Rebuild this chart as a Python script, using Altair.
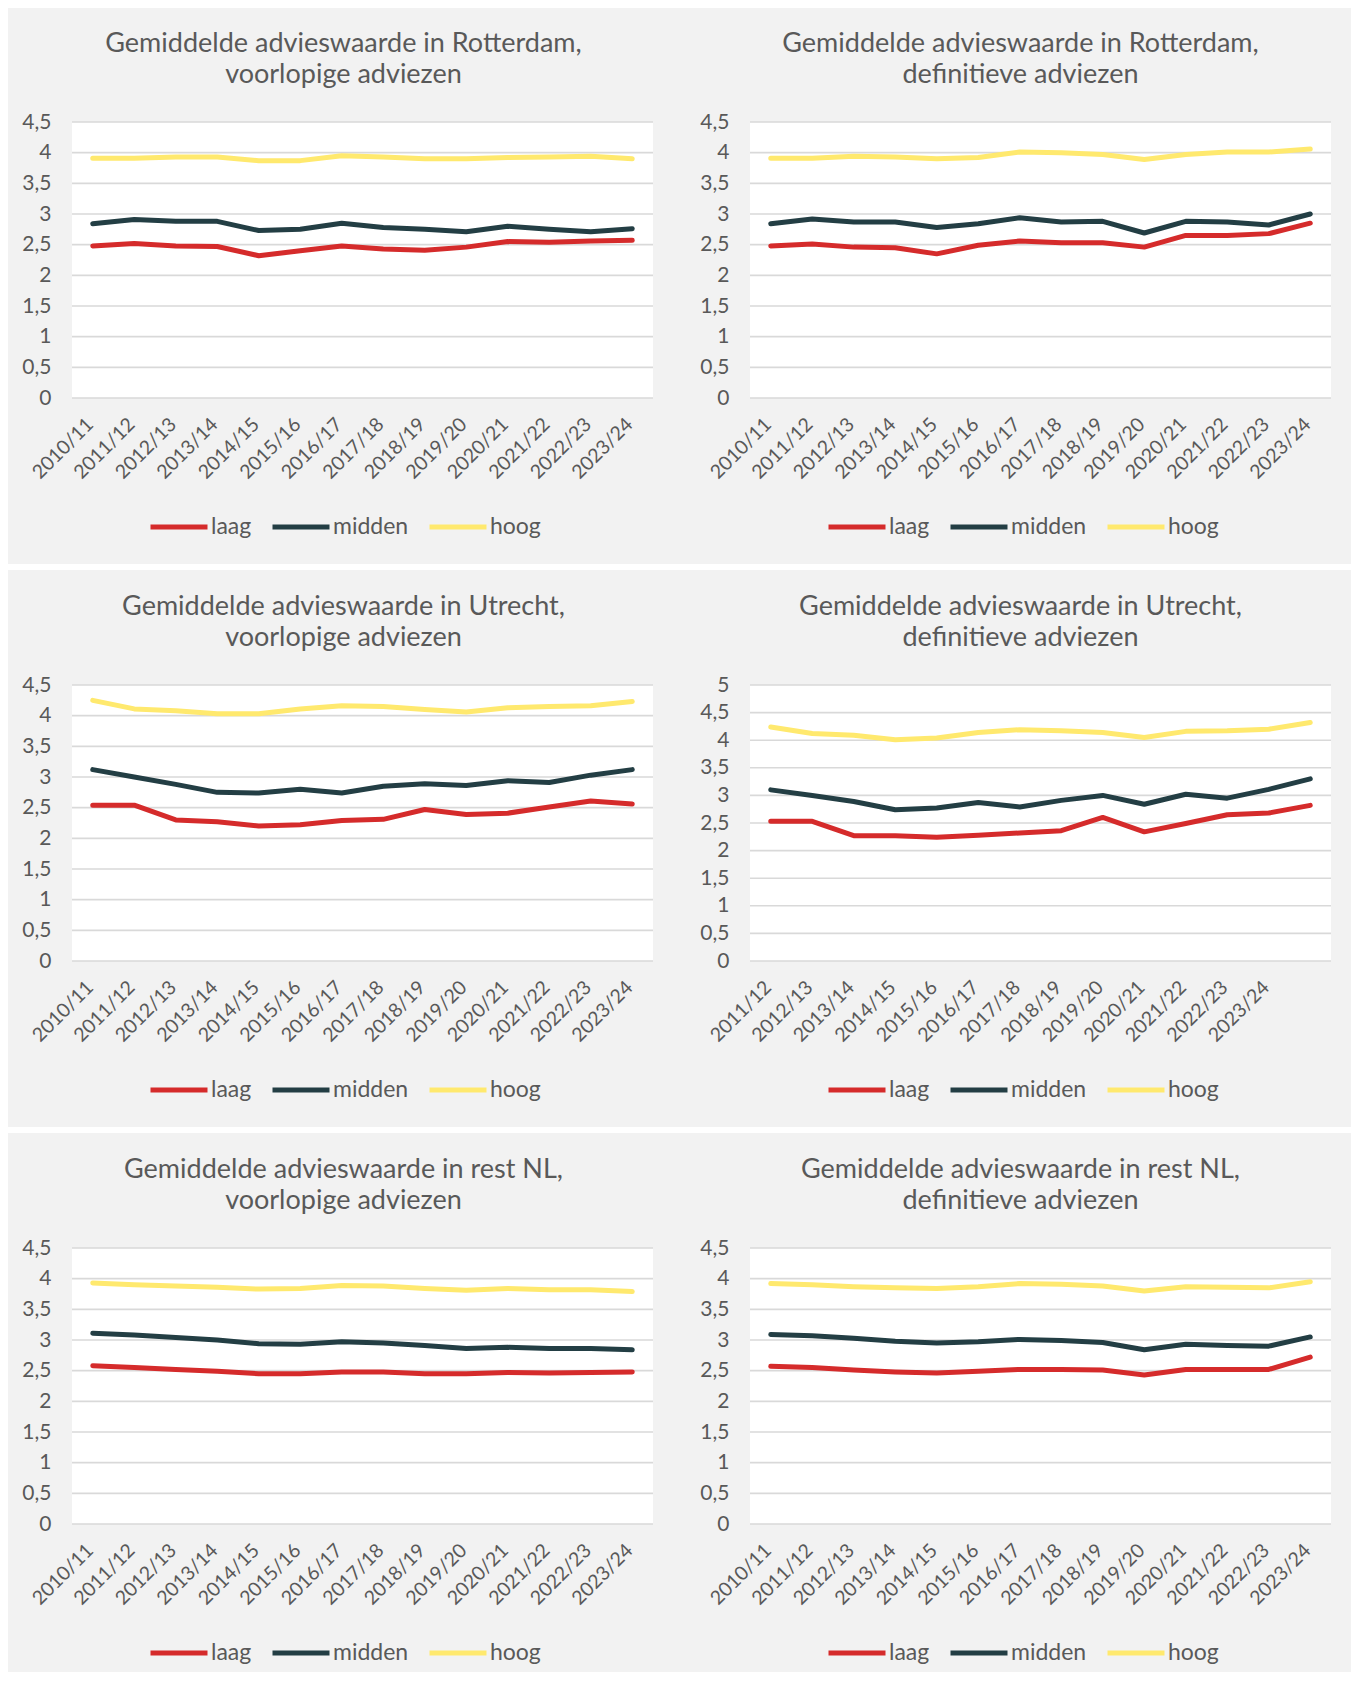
import altair as alt
import pandas as pd

FONT = "Lato"
TEXT = "#595959"
BG = "#F2F2F2"
GRID = "#D9D9D9"

# ---------------- data ----------------
seasons = ["2010/11", "2011/12", "2012/13", "2013/14", "2014/15", "2015/16", "2016/17",
           "2017/18", "2018/19", "2019/20", "2020/21", "2021/22", "2022/23", "2023/24"]
# the Utrecht 'definitief' chart has its labels shifted by one season (last slot empty)
seasons_utr_def = ["2011/12", "2012/13", "2013/14", "2014/15", "2015/16", "2016/17", "2017/18",
                   "2018/19", "2019/20", "2020/21", "2021/22", "2022/23", "2023/24", " "]

series = ["laag", "midden", "hoog"]
colors = ["#D52B2B", "#233E44", "#FFE96E"]

ticks_45 = [0, 0.5, 1, 1.5, 2, 2.5, 3, 3.5, 4, 4.5]
ticks_5 = [0, 0.5, 1, 1.5, 2, 2.5, 3, 3.5, 4, 4.5, 5]

title_rot_vl = ["Gemiddelde advieswaarde in Rotterdam,", "voorlopige adviezen"]
title_rot_def = ["Gemiddelde advieswaarde in Rotterdam,", "definitieve adviezen"]
title_utr_vl = ["Gemiddelde advieswaarde in Utrecht,", "voorlopige adviezen"]
title_utr_def = ["Gemiddelde advieswaarde in Utrecht,", "definitieve adviezen"]
title_nl_vl = ["Gemiddelde advieswaarde in rest NL,", "voorlopige adviezen"]
title_nl_def = ["Gemiddelde advieswaarde in rest NL,", "definitieve adviezen"]

# Rotterdam, voorlopig
rot_vl_laag = [2.48, 2.52, 2.48, 2.47, 2.32, 2.40, 2.48, 2.43, 2.41, 2.46, 2.55, 2.54, 2.56, 2.57]
rot_vl_midden = [2.84, 2.91, 2.88, 2.88, 2.73, 2.75, 2.85, 2.78, 2.75, 2.71, 2.80, 2.75, 2.71, 2.76]
rot_vl_hoog = [3.91, 3.91, 3.93, 3.93, 3.87, 3.87, 3.95, 3.93, 3.90, 3.90, 3.92, 3.93, 3.94, 3.90]
# Rotterdam, definitief
rot_def_laag = [2.48, 2.51, 2.46, 2.45, 2.35, 2.49, 2.56, 2.53, 2.53, 2.46, 2.65, 2.65, 2.68, 2.85]
rot_def_midden = [2.84, 2.92, 2.87, 2.87, 2.78, 2.84, 2.94, 2.87, 2.88, 2.69, 2.88, 2.87, 2.82, 3.00]
rot_def_hoog = [3.91, 3.91, 3.94, 3.93, 3.90, 3.92, 4.01, 4.00, 3.97, 3.89, 3.97, 4.01, 4.01, 4.06]
# Utrecht, voorlopig
utr_vl_laag = [2.54, 2.54, 2.30, 2.27, 2.20, 2.22, 2.29, 2.31, 2.47, 2.39, 2.41, 2.51, 2.61, 2.56]
utr_vl_midden = [3.12, 3.00, 2.88, 2.75, 2.74, 2.80, 2.74, 2.85, 2.89, 2.86, 2.94, 2.91, 3.03, 3.12]
utr_vl_hoog = [4.25, 4.11, 4.08, 4.03, 4.03, 4.11, 4.16, 4.15, 4.10, 4.06, 4.13, 4.15, 4.16, 4.23]
# Utrecht, definitief
utr_def_laag = [2.53, 2.53, 2.27, 2.27, 2.24, 2.28, 2.32, 2.36, 2.60, 2.34, 2.49, 2.65, 2.68, 2.82]
utr_def_midden = [3.10, 3.00, 2.89, 2.74, 2.77, 2.87, 2.79, 2.91, 3.00, 2.84, 3.02, 2.95, 3.11, 3.30]
utr_def_hoog = [4.24, 4.12, 4.09, 4.01, 4.04, 4.14, 4.19, 4.17, 4.14, 4.05, 4.16, 4.17, 4.20, 4.32]
# rest NL, voorlopig
nl_vl_laag = [2.58, 2.55, 2.52, 2.49, 2.45, 2.45, 2.48, 2.48, 2.45, 2.45, 2.47, 2.46, 2.47, 2.48]
nl_vl_midden = [3.11, 3.08, 3.04, 3.00, 2.94, 2.93, 2.97, 2.95, 2.91, 2.86, 2.88, 2.86, 2.86, 2.84]
nl_vl_hoog = [3.93, 3.90, 3.88, 3.86, 3.83, 3.84, 3.89, 3.88, 3.84, 3.81, 3.84, 3.82, 3.82, 3.79]
# rest NL, definitief
nl_def_laag = [2.57, 2.55, 2.51, 2.48, 2.46, 2.49, 2.52, 2.52, 2.51, 2.43, 2.52, 2.52, 2.52, 2.72]
nl_def_midden = [3.09, 3.07, 3.03, 2.98, 2.95, 2.97, 3.01, 2.99, 2.96, 2.84, 2.93, 2.91, 2.90, 3.05]
nl_def_hoog = [3.92, 3.90, 3.87, 3.85, 3.84, 3.87, 3.92, 3.91, 3.88, 3.80, 3.87, 3.86, 3.85, 3.95]

# ---------------- layout ----------------
PW, PH = 581, 276
LEFT = 64


def panel(title, cats, laag, midden, hoog, ticks, right, top, bottom, dx):
    rows = []
    for name, vals in zip(series, [laag, midden, hoog]):
        for i, (c, v) in enumerate(zip(cats, vals)):
            rows.append({"cat": c, "i": i, "serie": name, "value": v})
    df = pd.DataFrame(rows)
    ymax = ticks[-1]
    yscale = alt.Scale(domain=[0, ymax], nice=False, zero=True)
    yaxis = alt.Axis(values=ticks, format=".1~f",
                     labelExpr="replace(datum.label, '.', ',')",
                     ticks=False, tickSize=0, domain=False, grid=False,
                     labelPadding=21, labelFontSize=21, labelColor=TEXT,
                     labelFont=FONT, zindex=1, labelOverlap=False)

    one = alt.Data(values=[{"k": 0}])
    bg = alt.Chart(one).mark_rect(color=BG).encode(
        x=alt.value(-LEFT), x2=alt.value(PW + right),
        y=alt.value(-top), y2=alt.value(PH + bottom))
    plot_bg = alt.Chart(one).mark_rect(color="white").encode(
        x=alt.value(0), x2=alt.value(PW), y=alt.value(0), y2=alt.value(PH))
    grid = alt.Chart(pd.DataFrame({"value": ticks})).mark_rule(
        color=GRID, strokeWidth=1.6).encode(
        y=alt.Y("value:Q", scale=yscale, title=None, axis=yaxis))
    lines = alt.Chart(df).mark_line(
        strokeWidth=5, strokeCap="round", strokeJoin="round").encode(
        x=alt.X("cat:N", sort=cats, title=None,
                scale=alt.Scale(type="point", padding=0.5),
                axis=alt.Axis(labelAngle=315, labelAlign="right", labelBaseline="middle",
                              labelPadding=23, labelOffset=-3, ticks=False, tickSize=0,
                              domain=False, grid=False, labelFontSize=19.5,
                              labelColor=TEXT, labelFont=FONT, zindex=1,
                              labelOverlap=False, labelBound=False)),
        y=alt.Y("value:Q", scale=yscale, title=None, axis=yaxis),
        color=alt.Color("serie:N", scale=alt.Scale(domain=series, range=colors),
                        legend=alt.Legend(title=None, orient="none", legendX=76, legendY=374,
                                          direction="horizontal", columns=3,
                                          symbolType="stroke", symbolStrokeWidth=5,
                                          symbolSize=3249, labelOffset=1, columnPadding=10,
                                          labelFontSize=23, labelColor=TEXT, labelFont=FONT)),
        order=alt.Order("i:Q"),
    )
    return alt.layer(bg, plot_bg, grid, lines).properties(
        width=PW, height=PH,
        title=alt.TitleParams(title, font=FONT, fontSize=27, fontWeight="normal", color=TEXT,
                              anchor="middle", frame="group", dx=dx, offset=33 - top,
                              lineHeight=31),
    )


def row(a, b):
    return alt.hconcat(a, b, spacing=0).resolve_scale(
        x="independent", y="independent", color="independent").resolve_legend(color="independent")


p1 = panel(title_rot_vl, seasons, rot_vl_laag, rot_vl_midden, rot_vl_hoog, ticks_45, 33, 114, 166, -19)
p2 = panel(title_rot_def, seasons, rot_def_laag, rot_def_midden, rot_def_hoog, ticks_45, 20, 114, 166, -20)
p3 = panel(title_utr_vl, seasons, utr_vl_laag, utr_vl_midden, utr_vl_hoog, ticks_45, 33, 115, 166, -19)
p4 = panel(title_utr_def, seasons_utr_def, utr_def_laag, utr_def_midden, utr_def_hoog, ticks_5, 20, 115, 166, -20)
p5 = panel(title_nl_vl, seasons, nl_vl_laag, nl_vl_midden, nl_vl_hoog, ticks_45, 33, 115, 148, -19)
p6 = panel(title_nl_def, seasons, nl_def_laag, nl_def_midden, nl_def_hoog, ticks_45, 20, 115, 148, -20)

chart = alt.vconcat(row(p1, p2), row(p3, p4), row(p5, p6), spacing=6).resolve_scale(
    x="independent", y="independent", color="independent").resolve_legend(
    color="independent").properties(padding=0).configure(background="white").configure_view(
    stroke=None)

chart.save("out.html", embed_options={"renderer": "svg", "actions": False})
